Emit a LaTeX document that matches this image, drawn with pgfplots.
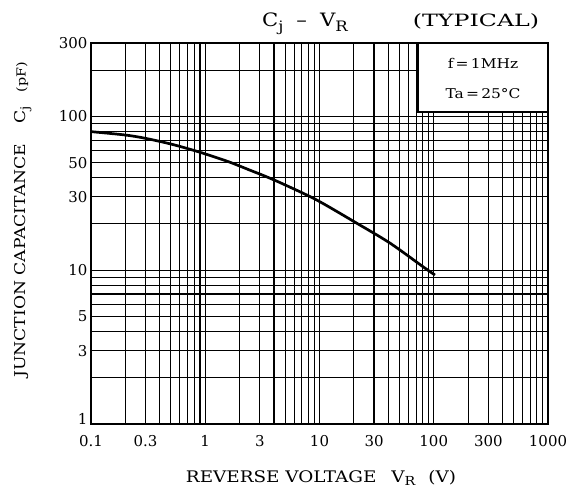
\documentclass[border=0pt]{standalone}
\usepackage{fontspec}
\setmainfont{DejaVu Serif}
\newfontfamily\wide{DejaVu Serif}[FakeStretch=1.15]
\newfontfamily\wider{DejaVu Serif}[FakeStretch=1.4]
\usepackage{pgfplots}
\pgfplotsset{compat=1.18}
\newcommand{\sub}[1]{\raisebox{-0.45ex}{\fontsize{0.78\dimexpr\fontdimen6\font\relax}{1}\selectfont #1}}
\begin{document}
\begin{tikzpicture}
\useasboundingbox (-91bp,-64bp) rectangle (491bp,424bp);
\begin{axis}[
  at={(0,0)}, anchor=south west,
  scale only axis, width=457bp, height=381bp,
  xmode=log, ymode=log,
  xmin=0.1, xmax=1000, ymin=1, ymax=300,
  xtick={0.1,0.3,1,3,10,30,100,300,1000},
  xticklabels={0.1,0.3,1,3,10,30,100,300,1000},
  minor xtick={0.2,0.4,0.5,0.6,0.7,0.8,0.9,2,4,5,6,7,8,9,20,40,50,60,70,80,90,200,400,500,600,700,800,900},
  ytick={1,3,5,10,30,50,100,300},
  yticklabels={\raisebox{11bp}{1},3,5,10,30,50,100,300},
  minor ytick={2,4,6,7,8,9,20,40,60,70,80,90,200},
  grid=both,
  major grid style={black, line width=1.1bp},
  minor grid style={black, line width=1.1bp},
  major tick length=0pt, minor tick length=0pt,
  axis line style={black, line width=1.8bp},
  tick label style={font=\fontsize{15}{16}\selectfont},
  /pgf/number format/assume math mode=true,
  xticklabel style={yshift=-8bp},
  yticklabel style={xshift=0bp},
]
\addplot[black, line width=2.7bp, smooth] coordinates {
 (0.1,79.6) (0.1985,75.7) (0.297,72.1) (0.509,65.9) (0.869,58.9) (1.59,50.8)
 (2.46,44.7) (3.33,40.9) (4.82,36.3) (9.45,28.6) (21.2,20.2) (41.4,15.0) (81,10.5) (102.5,9.3)
};
\draw[line width=1.8bp, fill=white] (axis cs:72.8,107) rectangle (axis cs:1000,300);
\node[font=\wide\fontsize{13.5}{15}\selectfont] at (axis cs:270,220) {f\,=\,1MHz};
\node[font=\wide\fontsize{13.5}{15}\selectfont] at (axis cs:270,141) {Ta\,=\,25°C};
\end{axis}
\node[anchor=base, font=\wide\fontsize{18.5}{20}\selectfont] at (214bp,397bp) {C\sub{j}\hspace{13bp}–\hspace{13bp}V\sub{R}};
\node[anchor=base, font=\wider\fontsize{17}{18}\selectfont] at (385bp,397bp) {(TYPICAL)};
\node[anchor=base, font=\wide\fontsize{16}{17}\selectfont] at (230bp,-58bp) {REVERSE VOLTAGE\hspace{15bp}V\sub{R}\hspace{13bp}(V)};
\node[anchor=center, rotate=90, font=\wide\fontsize{15}{17}\selectfont] at (-68bp,204bp) {JUNCTION CAPACITANCE\hspace{20bp}C\sub{j}\hspace{14bp}{\fontsize{12.5}{13}\selectfont (pF)}};
\end{tikzpicture}
\end{document}
